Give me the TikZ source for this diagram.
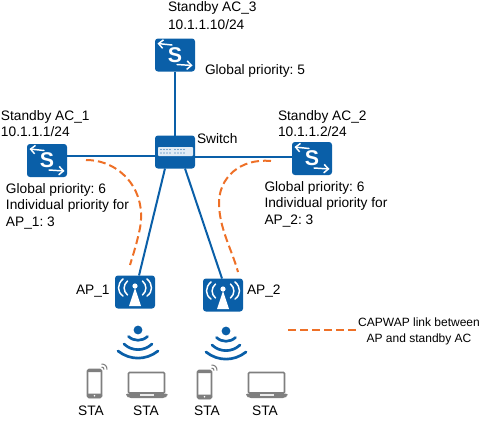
\documentclass[tikz,border=0pt]{standalone}
\usepackage{fontspec}
\setmainfont{Liberation Sans}
\frenchspacing
\definecolor{hwblue}{HTML}{0A5FA8}
\definecolor{capw}{HTML}{EE7027}
\definecolor{stag}{HTML}{7F7F7F}
\usetikzlibrary{arrows.meta}
\tikzset{
  x=0.75pt,y=-0.75pt,
  device/.style={fill=hwblue,draw=none,rounded corners=2.2pt,minimum width=30pt,minimum height=24.75pt,inner sep=0pt,outer sep=0pt},
  link/.style={draw=hwblue,line width=1.5pt},
  capwap/.style={draw=capw,line width=1.5pt,dash pattern=on 6pt off 3pt},
  lbl/.style={anchor=base west,inner sep=0pt,outer sep=0pt,font=\fontsize{10.3}{12}\selectfont},
  smalllbl/.style={anchor=base,inner sep=0pt,outer sep=0pt,font=\fontsize{9}{10}\selectfont},
  glyph/.style={draw=white,line width=1.1pt,-{Straight Barb[length=3.4pt,width=6.4pt]},line cap=round},
  signal/.style={draw=hwblue,line width=2pt,line cap=round},
  apwave/.style={draw=white,line width=1.1pt,line cap=round},
  gr/.style={draw=stag,line width=1.2pt},
}
\newcommand{\acglyph}[1]{%
  \draw[glyph] ([shift={(-3,-10)}]#1.center) -- ([shift={(-17.5,-11.5)}]#1.center);
  \draw[glyph] ([shift={(2,9.5)}]#1.center) -- ([shift={(17.5,10.5)}]#1.center);
  \node[text=white,inner sep=0pt,font=\fontsize{16}{16}\selectfont\bfseries] at (#1.center) {S};
}
\newcommand{\apglyph}[1]{%
  \begin{scope}[shift={(#1.center)}]
    \fill[white] (0,-4) -- (6,14) -- (-6,14) -- cycle;
    \fill[white] (0,-6) circle (2.6);
    \foreach \s in {-1,1}{
      \draw[apwave] (\s*7.5,-11) .. controls (\s*12,-7) and (\s*12,-1) .. (\s*7.5,3);
      \draw[apwave] (\s*12,-13) .. controls (\s*18,-8) and (\s*18,0) .. (\s*12,4);
    }
  \end{scope}
}
\newcommand{\wavesig}[2]{%
  \begin{scope}[shift={(#1,#2)}]
    \fill[hwblue] (0,0) circle (4.4);
    \draw[signal] (-9.5,6.5) .. controls (-4,11.5) and (4,11.5) .. (9.5,6.5);
    \draw[signal] (-14,14) .. controls (-6,21.5) and (6,21.5) .. (14,14);
    \draw[signal] (-20,21) .. controls (-8,30.5) and (8,30.5) .. (20,21);
  \end{scope}
}
\newcommand{\phoneicon}[2]{%
  \begin{scope}[shift={(#1,#2)}]
    \draw[gr,fill=white,rounded corners=1.2pt] (0,0) rectangle (14,28);
    \fill[stag,rounded corners=1pt] (-0.5,-0.5) rectangle (14.5,2.5);
    \fill[stag,rounded corners=1pt] (-0.5,24) rectangle (14.5,28.5);
    \fill[white] (7,26.2) circle (0.9);
    \draw[stag,line width=0.8pt] (14,-2.5) .. controls (15.5,-2.5) and (16.5,-1.5) .. (16.5,0);
    \draw[stag,line width=0.8pt] (14,-5.5) .. controls (17.5,-5.5) and (19.5,-3.5) .. (19.5,0);
  \end{scope}
}
\newcommand{\laptopicon}[2]{%
  \begin{scope}[shift={(#1,#2)}]
    \draw[gr,rounded corners=0.8pt] (2.5,0.5) rectangle (38.5,21);
    \fill[stag,rounded corners=1.5pt] (0,21.5) -- (41.5,21.5) -- (41.5,24) -- (39,26) -- (3,26) -- (0,24) -- cycle;
    \fill[white!85!stag] (13.5,21.5) rectangle (28,23.5);
  \end{scope}
}
\begin{document}
\begin{tikzpicture}
\useasboundingbox (0,0) rectangle (485,421);
\node[device] (ac3) at (175,55) {};
\node[device] (sw) at (175,152) {};
\node[device] (ac1) at (47,160.5) {};
\node[device] (ac2) at (312,158.5) {};
\node[device] (ap1) at (135,292) {};
\node[device] (ap2) at (223,295) {};
\coordinate (busl) at (110,156);
\coordinate (busr) at (240,156.5);
\coordinate (cap1a) at (86,160);
\coordinate (cap1b) at (130,265);
\coordinate (cap2a) at (271,161);
\coordinate (cap2b) at (238,272);
\coordinate (lega) at (288,330);
\coordinate (legb) at (357,330);
% links
\draw[link] (ac3.south) -- (sw.north);
\draw[link] (ac1.east |- busl) -- (sw.west |- busl);
\draw[link] (sw.east |- busr) -- (ac2.west |- busr);
\draw[link] ([shift={(-10,0)}]sw.south) -- ([shift={(4,0)}]ap1.north);
\draw[link] ([shift={(10,0)}]sw.south) -- ([shift={(-1,0)}]ap2.north);
% capwap
\draw[capwap] (cap1a) .. controls (120,160) and (147,190) .. (140,228) .. controls (137,243) and (133,255) .. (cap1b);
\draw[capwap] (cap2a) .. controls (240,158) and (218,178) .. (219,205) .. controls (220,230) and (232,250) .. (cap2b);
\draw[capwap] (lega) -- (legb);
% glyphs
\acglyph{ac3}\acglyph{ac1}\acglyph{ac2}
\fill[white!88!hwblue,rounded corners=0.6pt] (158,147) rectangle (193,156);
\foreach \x in {161,164,167,170,175,178,181,184}{
  \fill[hwblue] (\x,149.5) circle (0.6);
  \fill[hwblue] (\x,153) circle (0.6);
}
\apglyph{ap1}\apglyph{ap2}
\wavesig{138}{330}\wavesig{226}{331}
\phoneicon{87.5}{369.5}\phoneicon{197.5}{370.5}
\laptopicon{126}{372}\laptopicon{246}{372}
% labels
\node[lbl] (t3a) at (168,12) {Standby AC\_3};
\node[lbl] (t3b) at (168,29) {10.1.1.10/24};
\node[lbl] (t3c) at (205,74) {Global priority: 5};
\node[lbl] (t1a) at (1,120) {Standby AC\_1};
\node[lbl] (t1b) at (1,136) {10.1.1.1/24};
\node[lbl] (t1c) at (6,193) {Global priority: 6};
\node[lbl] (t1d) at (6,209) {Individual priority for};
\node[lbl] (t1e) at (6,226) {AP\_1: 3};
\node[lbl] (t2a) at (278,120) {Standby AC\_2};
\node[lbl] (t2b) at (278,136) {10.1.1.2/24};
\node[lbl] (t2c) at (264.5,191) {Global priority: 6};
\node[lbl] (t2d) at (264.5,207) {Individual priority for};
\node[lbl] (t2e) at (264.5,224) {AP\_2: 3};
\node[lbl] (tsw) at (197,143) {Switch};
\node[lbl] (tap1) at (76,294) {AP\_1};
\node[lbl] (tap2) at (247,294) {AP\_2};
\node[smalllbl] (tleg1) at (419,326) {CAPWAP link between};
\node[smalllbl] (tleg2) at (419,342) {AP and standby AC};
\node[lbl,anchor=base] (s1) at (91,415) {STA};
\node[lbl,anchor=base] (s2) at (146,415) {STA};
\node[lbl,anchor=base] (s3) at (207,415) {STA};
\node[lbl,anchor=base] (s4) at (265,415) {STA};
\end{tikzpicture}
\end{document}
